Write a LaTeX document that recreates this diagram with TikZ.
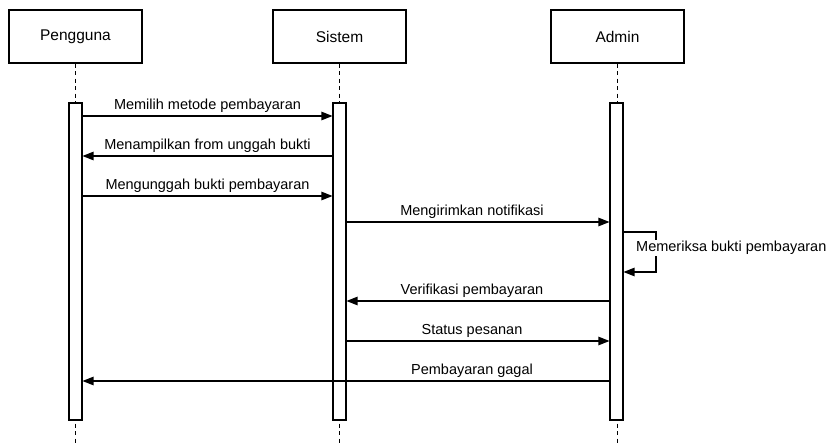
\documentclass[tikz,border=0pt]{standalone}
\usepackage{fontspec}
\setmainfont{Liberation Sans}
\usetikzlibrary{arrows.meta}
\begin{document}
\begin{tikzpicture}[x=1pt,y=-1pt,
  actor/.style={draw,line width=1.3pt,minimum width=133pt,minimum height=53pt,inner sep=0pt,font=\fontsize{15.5}{18}\selectfont},
  bar/.style={draw,line width=1.1pt,fill=white,minimum width=13pt,minimum height=317pt,inner sep=0pt},
  life/.style={line width=1.1pt,dash pattern=on 4pt off 3.5pt},
  msg/.style={line width=1.2pt,-{Triangle[length=11pt,width=8.5pt]}},
  lbl/.style={font=\fontsize{14.5}{17}\selectfont,inner sep=0pt,anchor=south,yshift=3pt}]
\useasboundingbox (0,0) rectangle (827,443);

% participants
\node[actor] (pa) at (75.5,36.5) {Pengguna};
\node[actor] (sa) at (339.5,36.5) {Sistem};
\node[actor] (aa) at (617.5,36.5) {Admin};

% lifelines
\coordinate (bottom) at (0,443);
\draw[life] (pa.south) -- (pa.south |- bottom);
\draw[life] (sa.south) -- (sa.south |- bottom);
\draw[life] (aa.south) -- (aa.south |- bottom);

% activation bars
\node[bar] (pb) at (75.5,261.5) {};
\node[bar] (sb) at (339.5,261.5) {};
\node[bar] (ab) at (616.5,261.5) {};

% message heights
\coordinate (y1) at (0,116);
\coordinate (y2) at (0,156);
\coordinate (y3) at (0,196);
\coordinate (y4) at (0,222);
\coordinate (y5) at (0,232);
\coordinate (y6) at (0,272);
\coordinate (y7) at (0,301);
\coordinate (y8) at (0,341);
\coordinate (y9) at (0,381);
\coordinate (lx) at (472,0);

% messages
\draw[msg] (pb.east |- y1) -- node[lbl]{Memilih metode pembayaran} (sb.west |- y1);
\draw[msg] (sb.west |- y2) -- node[lbl]{Menampilkan from unggah bukti} (pb.east |- y2);
\draw[msg] (pb.east |- y3) -- node[lbl]{Mengunggah bukti pembayaran} (sb.west |- y3);
\draw[msg] (sb.east |- y4) -- (ab.west |- y4);
\node[lbl] at (lx |- y4) {Mengirimkan notifikasi};

% self message
\coordinate (loopx) at (656,0);
\draw[msg] (ab.east |- y5) -- (loopx |- y5) -- (loopx |- y6) -- (ab.east |- y6);
\node[font=\fontsize{14.5}{17}\selectfont,fill=white,inner sep=1pt,anchor=west] at (635,248) {Memeriksa bukti pembayaran};

\draw[msg] (ab.west |- y7) -- (sb.east |- y7);
\node[lbl] at (lx |- y7) {Verifikasi pembayaran};
\draw[msg] (sb.east |- y8) -- (ab.west |- y8);
\node[lbl] at (lx |- y8) {Status pesanan};
\draw[msg] (ab.west |- y9) -- (pb.east |- y9);
\node[lbl] at (lx |- y9) {Pembayaran gagal};
\end{tikzpicture}
\end{document}
